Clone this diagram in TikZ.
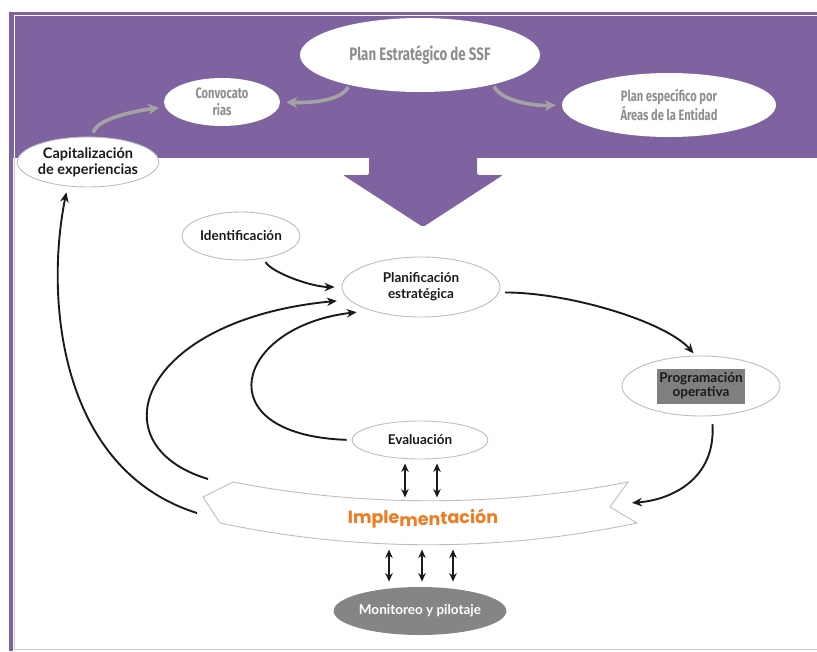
\documentclass[tikz,border=0pt]{standalone}
\usepackage{fontspec}
\setmainfont{Lato}
\newfontfamily\condfont[FakeStretch=0.74]{Fira Sans}
\newfontfamily\roundfont{Poppins}
\usetikzlibrary{shapes.geometric,arrows.meta}
\definecolor{bandpurple}{HTML}{7F63A0}
\definecolor{rimgray}{HTML}{BDBDBD}
\definecolor{topgray}{HTML}{8E8E8E}
\definecolor{arrowgray}{HTML}{A3A3A3}
\definecolor{ink}{HTML}{1A1A1A}
\definecolor{hlgray}{HTML}{7F7F7F}
\definecolor{monigray}{HTML}{858585}
\definecolor{implorange}{HTML}{F07B20}
\definecolor{framegray}{HTML}{C8C8C8}
\begin{document}
\begin{tikzpicture}[x=1pt,y=-1pt,
    stage/.style={ellipse,draw=rimgray,fill=white,line width=0.9pt,inner sep=0pt,align=center,text=ink,
      font=\fontsize{13.5}{16}\selectfont\bfseries},
    topnode/.style={ellipse,fill=white,inner sep=0pt,align=center,text=topgray},
    flow/.style={-{Stealth[length=10pt,width=8.5pt]},line width=1.9pt,draw=ink},
    dbl/.style={{Stealth[length=8.5pt,width=7.5pt]}-{Stealth[length=8.5pt,width=7.5pt]},line width=1.8pt,draw=ink},
    grayarrow/.style={-{Stealth[length=11pt,width=11pt]},line width=3.6pt,draw=arrowgray}]
    \useasboundingbox (0,0) rectangle (817,651);
    \fill[bandpurple] (9,12) rectangle (817,158);
    \fill[bandpurple] (9,158) rectangle (13,651);
    \draw[white,line width=1.2pt] (817,15.8) -- (14.3,15.8) -- (14.3,158);
    \draw[framegray,line width=1.5pt] (14.5,158) -- (14.5,649.5) -- (817,649.5);
    \fill[bandpurple,rounded corners=2pt] (369,157) -- (369,175) -- (343,175) -- (423,227) -- (503,175) -- (477,175) -- (477,157) -- cycle;

    \node[topnode,minimum width=240,minimum height=74,font=\condfont\bfseries\fontsize{18}{20}\selectfont] (plan) at (420,55) {Plan Estratégico de SSF};
    \node[topnode,minimum width=116,minimum height=48,font=\condfont\bfseries\fontsize{15}{17}\selectfont] (conv) at (222,102) {Convocato\\rias};
    \node[topnode,minimum width=214,minimum height=64,font=\condfont\bfseries\fontsize{15}{15.5}\selectfont] (areas) at (669,105) {Plan específico por\\Áreas de la Entidad};
    \node[stage,minimum width=134,minimum height=50,font=\fontsize{14.5}{16}\selectfont\bfseries] (capital) at (88,162) {Capitalización\\de experiencias};

    \node[stage,minimum width=118,minimum height=48] (ident) at (241,236) {Identificación};
    \node[stage,minimum width=158,minimum height=60] (planif) at (421,287) {Planificación\\estratégica};
    \node[stage,minimum width=158,minimum height=60] (progr) at (701,386) {\setlength{\fboxsep}{2.5pt}\colorbox{hlgray}{\begin{tabular}{@{}c@{}}Programación\\[-2pt]operativa\end{tabular}}};
    \node[stage,minimum width=136,minimum height=38] (evalu) at (420,440) {Evaluación};
    \node[stage,draw=none,fill=monigray,text=white,minimum width=170,minimum height=48] (monit) at (420,611) {Monitoreo y pilotaje};

    \draw[rimgray,line width=0.9pt,fill=white] (233,482) .. controls (360,507) and (500,507) .. (628,482) -- (610,507) -- (637,523)
      .. controls (500,552) and (357,552) .. (220,523) -- (203,497) -- cycle;
    \node[text=implorange,font=\roundfont\bfseries\fontsize{17.5}{19}\selectfont] (impl) at (423,519)
      {Imple\raisebox{-3pt}{m}\raisebox{-2pt}{en}\raisebox{-1pt}{t}ación};
    \coordinate (implT) at (208,479);
    \coordinate (implL) at (197,513);
    \coordinate (implR) at (630,503);

    \draw[grayarrow,shorten <=2pt,shorten >=6pt] (plan.-157) .. controls +(-8,16) and +(30,1) .. (conv.east);
    \draw[grayarrow,shorten <=2pt,shorten >=6pt] (plan.-22) .. controls +(8,16) and +(-30,1) .. (areas.west);
    \draw[grayarrow,shorten <=4pt,shorten >=6pt] (capital.80) .. controls +(4,-18) and +(-30,4) .. (conv.185);

    \draw[flow,shorten <=4pt,shorten >=7pt] (ident.-45) .. controls +(8,14) and +(-30,0) .. (planif.west);
    \draw[flow,shorten <=6pt,shorten >=3pt] (planif.-4) .. controls +(70,0) and +(-30,-34) .. (progr.100);
    \draw[flow,shorten <=8pt,shorten >=2pt] (progr.-70) .. controls +(4,64) and +(40,-3) .. (implR);
    \draw[flow,shorten <=5pt,shorten >=14pt] (evalu.west) .. controls +(-147,-5) and +(-136,16) .. (planif.-155);
    \draw[flow,shorten >=12pt] (implT) .. controls +(-113,-34) and +(-209,20) .. (planif.190);
    \draw[flow,shorten >=6pt] (implL) .. controls +(-137,-43) and +(-23,114) .. (capital.-130);

    \foreach \dx in {-15,17} \draw[dbl] ([xshift=\dx pt,yshift=-4pt]evalu.south) -- ++(0,34);
    \foreach \dx in {-31,2,33} \draw[dbl] ([xshift=\dx pt,yshift=5pt]monit.north) -- ++(0,-32);
\end{tikzpicture}
\end{document}
